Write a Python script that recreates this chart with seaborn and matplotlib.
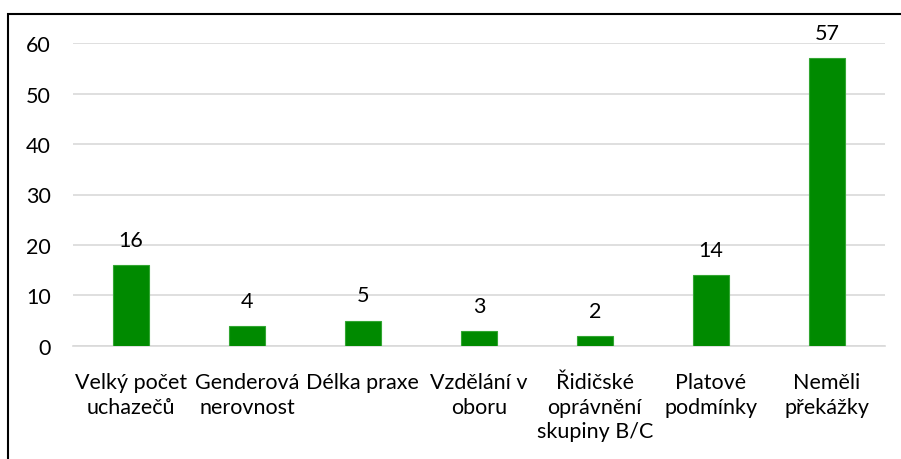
import matplotlib
matplotlib.use("Agg")
import matplotlib.pyplot as plt
import seaborn as sns
import pandas as pd
from matplotlib.patches import Rectangle

categories = [
    "Velký počet\nuchazečů",
    "Genderová\nnerovnost",
    "Délka praxe",
    "Vzdělání v\noboru",
    "Řidičské\noprávnění\nskupiny B/C",
    "Platové\npodmínky",
    "Neměli\npřekážky",
]
counts = [16, 4, 5, 3, 2, 14, 57]
y_ticks = [0, 10, 20, 30, 40, 50, 60]

df = pd.DataFrame({"kategorie": categories, "pocet": counts})

sns.set_theme(style="white")
plt.rcParams["font.family"] = ["Lato", "DejaVu Sans"]

fig = plt.figure(figsize=(9.01, 4.6), dpi=100)
ax = fig.add_axes([0.081, 0.2457, 0.901, 0.6586])

sns.barplot(data=df, x="kategorie", y="pocet", color="#008A00", saturation=1,
            width=0.31, edgecolor="#33A633", linewidth=0.8, ax=ax, zorder=3)

ax.set_ylim(0, 60)
ax.set_xlim(-0.5, len(categories) - 0.5)
ax.set_yticks(y_ticks)
ax.yaxis.grid(True, color="#D9D9D9", linewidth=1.2, zorder=0)
ax.set_axisbelow(True)
for s in ["top", "right", "left"]:
    ax.spines[s].set_visible(False)
ax.spines["bottom"].set_color("#D9D9D9")
ax.spines["bottom"].set_linewidth(1.2)
ax.tick_params(axis="y", length=0, pad=16, labelsize=15.5, colors="black")
ax.tick_params(axis="x", length=0, pad=19, labelsize=15.5, colors="black")
ax.set_xlabel("")
ax.set_ylabel("")
for lab in ax.get_xticklabels():
    lab.set_linespacing(1.28)

for i, v in enumerate(counts):
    ax.annotate(str(v), (i, v), xytext=(0, 11), textcoords="offset points",
                ha="center", va="bottom", fontsize=15.5, color="black")

# chart-area frame (crop of a larger box)
fig.patches.append(Rectangle((8 / 901, -0.1), 1.2, 1.1 - 15 / 460,
                             transform=fig.transFigure, fill=False,
                             edgecolor="black", linewidth=1.5))

fig.savefig("out.png", dpi=100)
